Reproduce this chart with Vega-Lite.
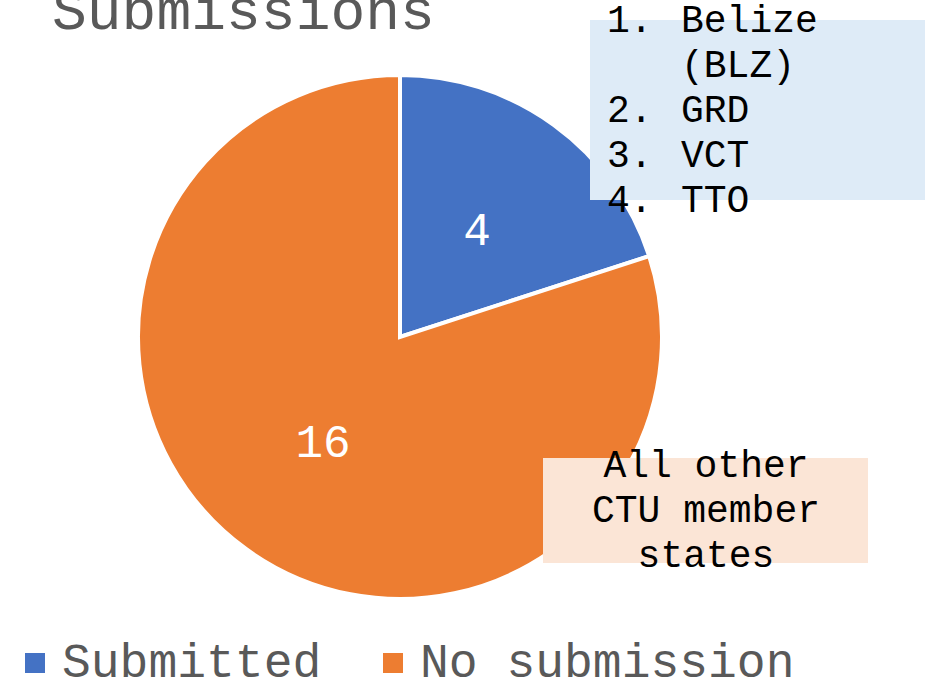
{
  "$schema": "https://vega.github.io/schema/vega-lite/v6.json",
  "width": 800,
  "height": 674,
  "autosize": {"type": "none"},
  "padding": {"left": 0, "top": 0, "right": 139, "bottom": 6},
  "background": "white",
  "config": {"view": {"stroke": null}, "font": "Liberation Mono"},
  "datasets": {
    "pie": [
      {"status": "Submitted", "count": 4, "rank": 1},
      {"status": "No submission", "count": 16, "rank": 2}
    ],
    "notes": [
      {"note": "title", "text": "Submissions"},
      {"note": "list", "num1": "1.", "num2": "2.\n3.\n4.", "item": "Belize\n(BLZ)\nGRD\nVCT\nTTO"},
      {"note": "others", "text": "All other\nCTU member\nstates"}
    ]
  },
  "layer": [
    {
      "data": {"name": "pie"},
      "mark": {"type": "arc", "outerRadius": 262, "stroke": "white", "strokeWidth": 4},
      "encoding": {
        "theta": {"field": "count", "type": "quantitative", "stack": true},
        "order": {"field": "rank", "type": "quantitative"},
        "color": {
          "field": "status",
          "type": "nominal",
          "scale": {"domain": ["Submitted", "No submission"], "range": ["#4472C4", "#ED7D31"]},
          "legend": {
            "orient": "none",
            "legendX": 11,
            "legendY": 639,
            "padding": 0,
            "symbolOffset": 0,
            "direction": "horizontal",
            "title": null,
            "symbolType": "square",
            "symbolSize": 400,
            "symbolStrokeWidth": 0,
            "symbolOpacity": 1,
            "labelFontSize": 48,
            "labelFont": "Liberation Mono",
            "labelColor": "#595959",
            "labelOffset": 3,
            "columnPadding": 47,
            "labelLimit": 500,
            "encode": {"symbols": {"update": {"size": {"value": 400}}}}
          }
        }
      }
    },
    {
      "data": {"name": "pie"},
      "mark": {"type": "text", "radius": 131, "fontSize": 46, "color": "white", "font": "Liberation Mono"},
      "encoding": {
        "theta": {"field": "count", "type": "quantitative", "stack": true},
        "order": {"field": "rank", "type": "quantitative"},
        "text": {"field": "count", "type": "quantitative"}
      }
    },
    {
      "data": {"name": "notes"},
      "transform": [{"filter": "datum.note === 'list'"}],
      "mark": {"type": "rect", "color": "#DEEBF7"},
      "encoding": {
        "x": {"datum": 590, "type": "quantitative", "scale": {"domain": [0, 800]}, "axis": null},
        "x2": {"datum": 925},
        "y": {"datum": 20, "type": "quantitative", "scale": {"domain": [0, 674], "reverse": true}, "axis": null},
        "y2": {"datum": 200}
      }
    },
    {
      "data": {"name": "notes"},
      "transform": [{"filter": "datum.note === 'others'"}],
      "mark": {"type": "rect", "color": "#FBE5D6"},
      "encoding": {
        "x": {"datum": 543, "type": "quantitative", "scale": {"domain": [0, 800]}, "axis": null},
        "x2": {"datum": 868},
        "y": {"datum": 458, "type": "quantitative", "scale": {"domain": [0, 674], "reverse": true}, "axis": null},
        "y2": {"datum": 563}
      }
    },
    {
      "data": {"name": "notes"},
      "transform": [{"filter": "datum.note === 'list'"}],
      "mark": {"type": "text", "align": "left", "baseline": "alphabetic", "fontSize": 38, "color": "black", "font": "Liberation Mono"},
      "encoding": {
        "x": {"datum": 607, "type": "quantitative", "scale": {"domain": [0, 800]}, "axis": null},
        "y": {"datum": 32, "type": "quantitative", "scale": {"domain": [0, 674], "reverse": true}, "axis": null},
        "text": {"field": "num1"}
      }
    },
    {
      "data": {"name": "notes"},
      "transform": [{"filter": "datum.note === 'list'"}],
      "mark": {"type": "text", "align": "left", "baseline": "alphabetic", "fontSize": 38, "lineHeight": 45, "lineBreak": "\n", "color": "black", "font": "Liberation Mono"},
      "encoding": {
        "x": {"datum": 607, "type": "quantitative", "scale": {"domain": [0, 800]}, "axis": null},
        "y": {"datum": 122, "type": "quantitative", "scale": {"domain": [0, 674], "reverse": true}, "axis": null},
        "text": {"field": "num2"}
      }
    },
    {
      "data": {"name": "notes"},
      "transform": [{"filter": "datum.note === 'list'"}],
      "mark": {"type": "text", "align": "left", "baseline": "alphabetic", "fontSize": 38, "lineHeight": 45, "lineBreak": "\n", "color": "black", "font": "Liberation Mono"},
      "encoding": {
        "x": {"datum": 681, "type": "quantitative", "scale": {"domain": [0, 800]}, "axis": null},
        "y": {"datum": 32, "type": "quantitative", "scale": {"domain": [0, 674], "reverse": true}, "axis": null},
        "text": {"field": "item"}
      }
    },
    {
      "data": {"name": "notes"},
      "transform": [{"filter": "datum.note === 'others'"}],
      "mark": {"type": "text", "align": "center", "baseline": "alphabetic", "fontSize": 38, "lineHeight": 45, "lineBreak": "\n", "color": "black", "font": "Liberation Mono"},
      "encoding": {
        "x": {"datum": 706, "type": "quantitative", "scale": {"domain": [0, 800]}, "axis": null},
        "y": {"datum": 477, "type": "quantitative", "scale": {"domain": [0, 674], "reverse": true}, "axis": null},
        "text": {"field": "text"}
      }
    },
    {
      "data": {"name": "notes"},
      "transform": [{"filter": "datum.note === 'title'"}],
      "mark": {"type": "text", "align": "left", "baseline": "alphabetic", "fontSize": 58, "color": "#595959", "font": "Liberation Mono"},
      "encoding": {
        "x": {"datum": 52, "type": "quantitative", "scale": {"domain": [0, 800]}, "axis": null},
        "y": {"datum": 29, "type": "quantitative", "scale": {"domain": [0, 674], "reverse": true}, "axis": null},
        "text": {"field": "text"}
      }
    }
  ]
}
